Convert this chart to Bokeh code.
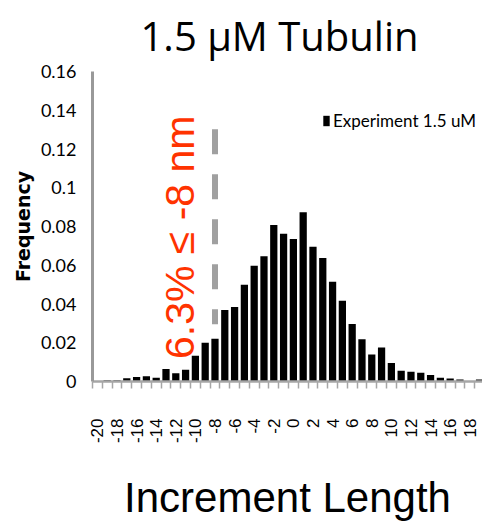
from math import pi
from bokeh.plotting import figure
from bokeh.models import (ColumnDataSource, FixedTicker, Label, Range1d, Legend,
                          LegendItem)
from bokeh.embed import file_html
from bokeh.resources import INLINE

# ---- data ----
increment = list(range(-20, 20))
frequency = [0.0, 0.0007, 0.0007, 0.0017, 0.0023, 0.0027, 0.0020, 0.0065, 0.0042, 0.0061,
             0.0133, 0.0200, 0.0221, 0.0369, 0.0384, 0.0500, 0.0598, 0.0646, 0.0808, 0.0763,
             0.0736, 0.0874, 0.0695, 0.0638, 0.0515, 0.0417, 0.0297, 0.0218, 0.0140, 0.0176,
             0.0096, 0.0056, 0.0050, 0.0045, 0.0033, 0.0020, 0.0015, 0.0010, 0.0, 0.0010]
series_name = "Experiment 1.5 uM"
x_tick_values = list(range(-20, 19, 2))
x_tick_labels = [str(v) for v in x_tick_values]
y_tick_values = [0, 0.02, 0.04, 0.06, 0.08, 0.1, 0.12, 0.14, 0.16]
y_tick_labels = ["0", "0.02", "0.04", "0.06", "0.08", "0.1", "0.12", "0.14", "0.16"]
threshold = -8
threshold_span = [0.0296, 0.1302]
annotation_text = "6.3% \u2264 -8 nm"
title_text = "1.5 \u00b5M Tubulin"

src = ColumnDataSource(dict(x=increment, y=frequency))

p = figure(width=482, height=524, output_backend="svg", toolbar_location=None,
           x_range=Range1d(-20.5, 19.3), y_range=Range1d(0, 0.16),
           min_border_left=92, min_border_right=0, min_border_top=71,
           min_border_bottom=132, title=title_text)
p.outline_line_color = None
p.xgrid.visible = False
p.ygrid.visible = False
p.background_fill_color = "white"
p.border_fill_color = "white"

p.title.text_font = "Open Sans"
p.title.text_font_size = "40px"
p.title.text_font_style = "normal"
p.title.text_color = "black"
p.title.align = "left"
p.title.offset = 48
p.title.vertical_align = "top"
p.title.standoff = 14

bars = p.vbar(x="x", top="y", width=0.74, source=src, fill_color="black",
              line_color=None)

# threshold dashed line
p.segment(x0=[threshold], y0=[threshold_span[1]], x1=[threshold], y1=[threshold_span[0]],
          line_color="#a0a0a0", line_width=6, line_dash="25 20", line_cap="butt")

# x axis
xa = p.xaxis[0]
xa.ticker = FixedTicker(ticks=x_tick_values,
                        minor_ticks=[v + 0.5 for v in range(-21, 20)])
xa.major_label_overrides = {v: l for v, l in zip(x_tick_values, x_tick_labels)}
xa.major_label_orientation = pi / 2
xa.major_tick_line_color = None
xa.major_tick_out = 0
xa.major_tick_in = 0
xa.minor_tick_line_color = "#a6a6a6"
xa.minor_tick_line_width = 1.5
xa.minor_tick_out = 7
xa.minor_tick_in = 0
xa.axis_line_color = "#a6a6a6"
xa.axis_line_width = 2.5
xa.major_label_standoff = 30
xa.major_label_text_font = "Liberation Sans"
xa.major_label_text_font_size = "17px"
xa.major_label_text_color = "black"
xa.axis_label = "Increment Length"
xa.axis_label_text_font = "Liberation Sans"
xa.axis_label_text_font_size = "42px"
xa.axis_label_text_font_style = "normal"
xa.axis_label_text_color = "black"
xa.axis_label_standoff = 28

# y axis
ya = p.yaxis[0]
ya.ticker = FixedTicker(ticks=y_tick_values)
ya.major_label_overrides = {v: l for v, l in zip(y_tick_values, y_tick_labels)}
ya.major_tick_line_color = None
ya.major_tick_out = 0
ya.major_tick_in = 0
ya.minor_tick_line_color = None
ya.axis_line_color = "#999999"
ya.axis_line_width = 3
ya.major_label_standoff = 16
ya.major_label_text_font = "Lato"
ya.major_label_text_font_size = "18px"
ya.major_label_text_color = "black"
ya.axis_label = "Frequency"
ya.axis_label_text_font = "DejaVu Sans"
ya.axis_label_text_font_size = "19px"
ya.axis_label_text_font_style = "bold"
ya.axis_label_text_color = "black"
ya.axis_label_standoff = 4

# legend
legend = Legend(items=[LegendItem(label=series_name, renderers=[bars])],
                location=(230, 250), orientation="vertical",
                glyph_width=8, glyph_height=13, label_standoff=3,
                padding=0, margin=0, border_line_color=None,
                background_fill_alpha=0,
                label_text_font="Lato", label_text_font_size="17px",
                label_text_color="black")
p.add_layout(legend)

# annotation text
p.add_layout(Label(x=-11.6, y=0.0116, text=annotation_text, angle=pi / 2,
                   text_font="Liberation Sans", text_font_size="41px",
                   text_color="#ff3300", text_align="left",
                   text_baseline="alphabetic"))

open("out.html", "w").write(file_html(p, INLINE))
